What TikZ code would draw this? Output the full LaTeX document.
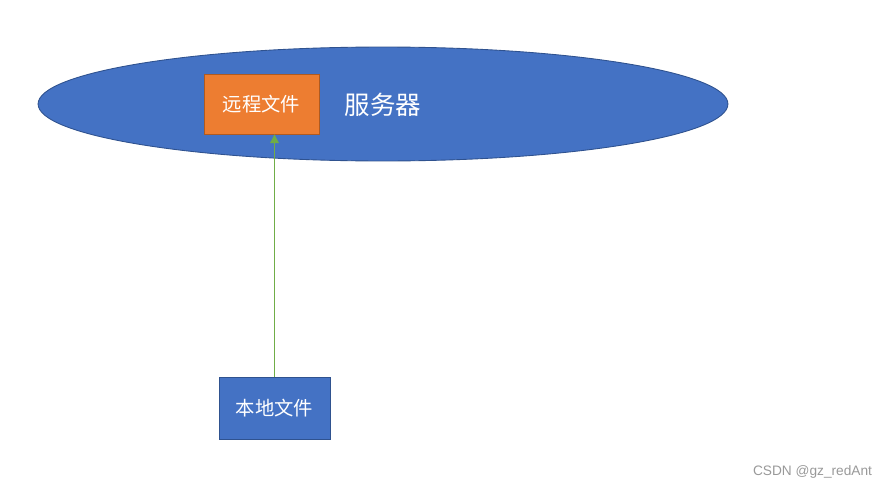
\documentclass[tikz,border=0pt]{standalone}
\usepackage{fontspec}
\newfontfamily\cjk{Noto Sans CJK SC}
\setsansfont{Liberation Sans}
\usetikzlibrary{shapes.geometric,arrows.meta}
\definecolor{srvblue}{HTML}{4472C4}
\definecolor{srvline}{HTML}{2F528F}
\definecolor{remorange}{HTML}{ED7D31}
\definecolor{remline}{HTML}{AE5A21}
\definecolor{upgreen}{HTML}{70AD47}
\tikzset{
	filebox/.style={draw, line width=0.5pt, minimum width=#1, inner sep=0pt, text=white, font=\cjk\fontsize{11}{13}\selectfont},
}
\begin{document}
\begin{tikzpicture}[x=0.02cm,y=-0.02cm]
	\useasboundingbox (0,0) rectangle (888,490);
	\node[ellipse, draw=srvline, fill=srvblue, line width=0.5pt, minimum width=13.8cm, minimum height=2.28cm, inner sep=0pt] (server) at (383,104) {};
	\node[text=white, font=\cjk\fontsize{14.5}{17}\selectfont] (servername) at (383,105) {服务器};
	\node[filebox=2.3cm, minimum height=1.2cm, fill=remorange, draw=remline] (remote) at (261.5,104) {远程文件};
	\node[filebox=2.22cm, minimum height=1.24cm, fill=srvblue, draw=srvline] (local) at (274.5,408) {本地文件};
	\node[text=gray!80, font=\sffamily\fontsize{7.8}{9}\selectfont] (mark) at (812.5,472) {CSDN @gz\_redAnt};
	
	\draw[-{Triangle[length=5pt,width=5pt]}, upgreen, line width=0.6pt] (local.north) -- (local.north |- remote.south);
\end{tikzpicture}
\end{document}
